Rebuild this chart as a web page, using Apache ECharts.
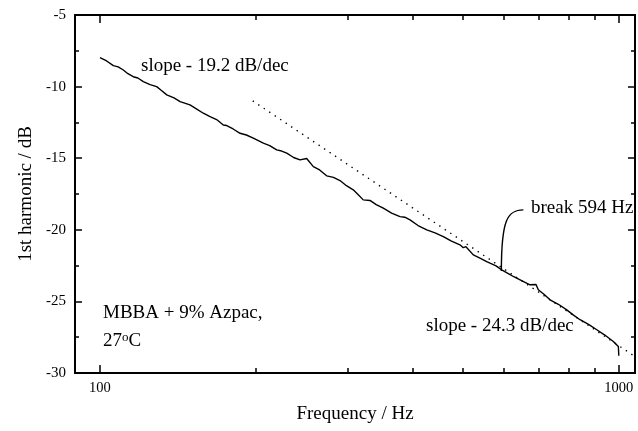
<!DOCTYPE html>
<html>
<head>
<meta charset="utf-8">
<script src="https://cdn.jsdelivr.net/npm/echarts@6/dist/echarts.min.js"></script>
<style>
  html, body { margin: 0; padding: 0; background: #fff; }
  #chart { width: 638px; height: 431px; }
</style>
</head>
<body>
<div id="chart"></div>
<script>
// Measured first-harmonic response (frequency in Hz, level in dB)
const freqHz = [
  100.0, 100.8, 103.0, 106.1, 108.4, 110.9, 113.2, 115.9, 118.3, 121.2,
  124.9, 128.6, 131.2, 134.5, 138.9, 142.7, 149.1, 153.4, 158.2, 163.0,
  167.8, 172.9, 175.5, 180.6, 186.2, 191.5, 197.5, 206.5, 212.4, 219.1,
  224.0, 229.1, 236.2, 243.0, 250.3, 257.8, 265.1, 273.5, 281.9, 290.2,
  298.6, 307.8, 314.0, 321.8, 331.5, 340.8, 351.7, 364.9, 378.7, 386.9,
  396.0, 410.3, 426.6, 442.5, 459.1, 476.0, 494.3, 501.6, 507.6, 524.4,
  540.2, 556.5, 564.8, 580.1, 594.9, 610.2, 626.3, 649.8, 674.5, 692.8,
  699.8, 718.5, 737.2, 765.0, 794.0, 818.2, 842.3, 874.6, 907.3, 940.1,
  976.3, 998.4, 1000.5
];
const harmonicDb = [
  -7.98, -7.86, -8.21, -8.54, -8.62, -8.84, -9.10, -9.31, -9.40, -9.65,
  -9.86, -10.00, -10.26, -10.58, -10.79, -11.05, -11.28, -11.55, -11.86, -12.10,
  -12.30, -12.68, -12.72, -12.96, -13.26, -13.38, -13.60, -13.95, -14.12, -14.42,
  -14.50, -14.65, -14.95, -15.12, -15.02, -15.59, -15.82, -16.23, -16.34, -16.56,
  -16.92, -17.21, -17.52, -17.91, -17.95, -18.24, -18.49, -18.83, -19.08, -19.12,
  -19.31, -19.70, -20.00, -20.21, -20.47, -20.79, -21.05, -21.25, -21.18, -21.75,
  -21.98, -22.22, -22.33, -22.52, -22.80, -23.02, -23.26, -23.55, -23.84, -23.82,
  -24.19, -24.52, -24.89, -25.20, -25.59, -25.96, -26.28, -26.60, -26.98, -27.35,
  -27.80, -28.15, -28.80
];

// High-frequency asymptote (-24.3 dB/dec) drawn as a dotted guide
const fitFreqHz = [197, 1080];
const fitDb = [-11.0, -28.9];

// Corner frequency of the two-slope fit
const breakFreqHz = 594;
const breakDb = -22.80;

// Axis ticks
const xMajorTicks = [100, 1000];
const xMinorTicks = [200, 300, 400, 500, 600, 700, 800, 900];

const SERIF = '"Liberation Serif", "Times New Roman", serif';

const chart = echarts.init(document.getElementById('chart'), null, { renderer: 'canvas' });

const xRange = { min: 89.5, max: 1075 };
const grid = { left: 75, top: 15, right: 3, bottom: 58 };

function xAxisBase(position, ticks, len, showLabel) {
  return {
    type: 'log', logBase: 10, position: position,
    min: xRange.min, max: xRange.max,
    axisLine: { show: true, lineStyle: { color: '#000', width: 2 } },
    axisTick: { show: true, inside: true, length: len, customValues: ticks,
                lineStyle: { color: '#000', width: 1.5 } },
    axisLabel: showLabel ? {
      show: true, customValues: xMajorTicks, margin: 8,
      formatter: (v) => String(Math.round(v)),
      fontFamily: SERIF, fontSize: 14.5, color: '#000'
    } : { show: false },
    splitLine: { show: false },
    minorTick: { show: false }
  };
}

const xAxes = [
  Object.assign(xAxisBase('bottom', xMajorTicks, 8, true), {
    name: 'Frequency / Hz', nameLocation: 'middle', nameGap: 32,
    nameTextStyle: { fontFamily: SERIF, fontSize: 19, color: '#000' }
  }),
  xAxisBase('bottom', xMinorTicks, 5, false),
  xAxisBase('top', xMajorTicks, 8, false),
  xAxisBase('top', xMinorTicks, 5, false)
];

function yAxisBase(position, showLabel) {
  return {
    type: 'value', position: position,
    min: -30, max: -5, interval: 5,
    axisLine: { show: true, lineStyle: { color: '#000', width: 2 } },
    axisTick: { show: true, inside: true, length: 7, lineStyle: { color: '#000', width: 1.5 } },
    minorTick: { show: true, splitNumber: 2, length: 4, lineStyle: { color: '#000', width: 1.5 } },
    axisLabel: showLabel ? {
      show: true, margin: 9, fontFamily: SERIF, fontSize: 15, color: '#000'
    } : { show: false },
    splitLine: { show: false },
    minorSplitLine: { show: false }
  };
}

const yAxes = [
  Object.assign(yAxisBase('left', true), {
    name: '1st harmonic / dB', nameLocation: 'middle', nameGap: 38,
    nameTextStyle: { fontFamily: SERIF, fontSize: 19, color: '#000' }
  }),
  yAxisBase('right', false)
];

const curveData = freqHz.map((f, i) => [f, harmonicDb[i]]);
const fitData = fitFreqHz.map((f, i) => [f, fitDb[i]]);

chart.setOption({
  animation: false,
  backgroundColor: '#fff',
  grid: grid,
  xAxis: xAxes,
  yAxis: yAxes,
  series: [
    {
      type: 'line', xAxisIndex: 0, yAxisIndex: 0,
      data: fitData, showSymbol: false, silent: true, clip: true,
      lineStyle: { color: '#000', width: 1.4, type: [1.4, 5.2] }
    },
    {
      type: 'line', xAxisIndex: 0, yAxisIndex: 0,
      data: curveData, showSymbol: false, silent: true,
      lineStyle: { color: '#000', width: 1.4 }
    }
  ]
});

// Text annotations and the leader to the corner frequency
const anchor = chart.convertToPixel({ xAxisIndex: 0, yAxisIndex: 0 }, [breakFreqHz, breakDb]);
const textStyle = { fontFamily: SERIF, fontSize: 19, fill: '#000' };

chart.setOption({
  graphic: [
    { type: 'text', left: 141, top: 57, style: Object.assign({ text: 'slope - 19.2 dB/dec' }, textStyle) },
    { type: 'text', left: 426, top: 317, style: Object.assign({ text: 'slope - 24.3 dB/dec' }, textStyle) },
    { type: 'text', left: 103, top: 304, style: Object.assign({ text: 'MBBA + 9% Azpac,' }, textStyle) },
    {
      type: 'text', left: 103, top: 331,
      style: {
        text: '27{sup|o}C', fontFamily: SERIF, fontSize: 19, fill: '#000',
        rich: { sup: { fontFamily: SERIF, fontSize: 13, verticalAlign: 'top', padding: [0, 0, 8, 0] } }
      }
    },
    { type: 'text', left: 531, top: 199, style: Object.assign({ text: 'break 594 Hz' }, textStyle) },
    {
      type: 'bezierCurve',
      shape: {
        x1: anchor[0], y1: anchor[1] + 1,
        cpx1: anchor[0], cpy1: anchor[1] - 50,
        cpx2: anchor[0] + 6, cpy2: anchor[1] - 60,
        x2: anchor[0] + 22, y2: anchor[1] - 60
      },
      style: { stroke: '#000', lineWidth: 1.4, fill: null }
    }
  ]
});
</script>
</body>
</html>
